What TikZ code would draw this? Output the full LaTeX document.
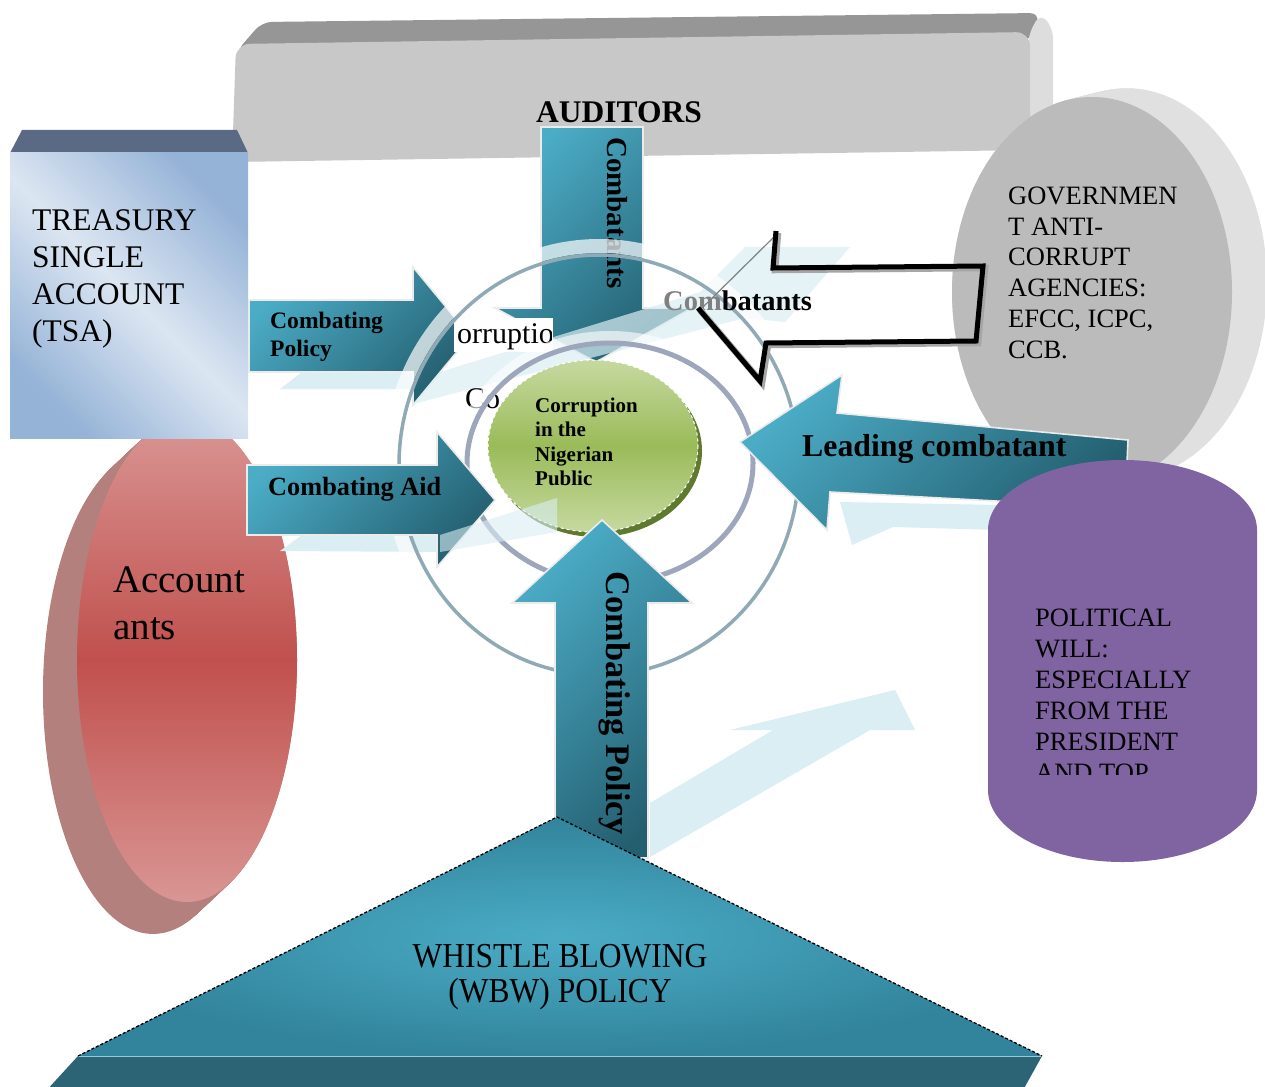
\documentclass[tikz,border=0pt]{standalone}
\usepackage{fontspec}
\setmainfont{Liberation Serif}
\usetikzlibrary{positioning}

\definecolor{teallight}{HTML}{4BACC6}
\definecolor{tealdark}{HTML}{245F70}
\definecolor{palecyan}{HTML}{DAEEF3}
\definecolor{slatetop}{HTML}{5A6A85}
\definecolor{tsalight}{HTML}{DCE6F2}
\definecolor{tsadark}{HTML}{95B3D7}
\definecolor{rosemid}{HTML}{C0504D}
\definecolor{roselight}{HTML}{D99694}
\definecolor{roseside}{HTML}{B3807E}
\definecolor{greenlight}{HTML}{C6D9A0}
\definecolor{greenmid}{HTML}{9BBB59}
\definecolor{greendark}{HTML}{5E7A2E}
\definecolor{willpurple}{HTML}{8064A2}
\definecolor{ringblue}{HTML}{8FAAB5}
\definecolor{ringgray}{HTML}{9EA6BC}
\definecolor{pyrdark}{HTML}{31849B}
\definecolor{pyrband}{HTML}{2D6475}
\definecolor{audfront}{HTML}{C8C8C8}
\definecolor{audtop}{HTML}{969696}
\definecolor{audside}{HTML}{DDDDDD}
\definecolor{govfront}{HTML}{BBBBBB}
\definecolor{govside}{HTML}{E0E0E0}

\newcommand{\fsz}[2]{\fontsize{#1}{#2}\selectfont}

\tikzset{
  tealarrow/.style={draw=white!92!black, line width=1.6, top color=teallight, bottom color=tealdark, shading angle=45},
  palearrow/.style={fill=palecyan},
  blocktext/.style={anchor=north west, inner sep=0pt, align=left},
}

\begin{document}
\begin{tikzpicture}[x=1pt,y=-1pt]
\useasboundingbox (0,0) rectangle (1265,1086);
\fill[white] (0,0) rectangle (1265,1086);
\clip (0,0) rectangle (1265,1086);

% auditors slab
\fill[audtop, rounded corners=10] (236,52) -- (262,22) -- (1040,13) -- (1032,40) -- cycle;
\fill[audside, rounded corners=10] (1028,36) -- (1040,13) -- (1053,28) -- (1053,140) -- (1028,152) -- cycle;
\fill[audfront, rounded corners=14] (236,44) -- (1030,32) -- (1030,150) -- (232,162) -- cycle;
\node[anchor=base, inner sep=0pt, font={\fsz{31.5}{37}\bfseries}] (auditors) at (619,123) {AUDITORS};

% anti-corruption agencies disc
\foreach \i in {0,...,35}
  \fill[govside, shift={(\i,-0.25*\i)}] (1092,292) ellipse [x radius=140, y radius=195];
\fill[govfront] (1092,292) ellipse [x radius=140, y radius=195];
\node[blocktext, font=\fsz{26.5}{30.8}] (agencies) at (1008,186.5)
  {GOVERNMEN\\T ANTI-\\CORRUPT\\AGENCIES:\\EFCC, ICPC,\\CCB.};

% accountants disc
\foreach \i in {0,...,34}
  \fill[roseside, shift={(-\i,0.94*\i)}] (187,660) ellipse [x radius=110, y radius=242];
\shade[top color=roselight, bottom color=roselight, middle color=rosemid] (187,660) ellipse [x radius=110, y radius=242];
\node[blocktext, font=\fsz{39}{47}] (accountants) at (113,567) {Account\\ants};

% treasury single account box
\fill[slatetop] (10,153) -- (22,130) -- (237,130) -- (248,153) -- cycle;
\shade[top color=tsadark, bottom color=tsadark, middle color=tsalight, shading angle=-45] (10,153) rectangle (248,438);
\node[blocktext, font=\fsz{31.5}{37}] (tsa) at (32,209) {TREASURY\\SINGLE\\ACCOUNT\\(TSA)};

% faded arrows behind
\fill[palearrow] (280,389) -- (302,372) -- (420,372) -- (420,389) -- cycle;
\fill[palearrow] (280,551) -- (302,535) -- (445,535) -- (445,552) -- cycle;
\fill[palearrow] (840,502) -- (852,545) -- (893,527) -- (1000,530) -- (1000,505) -- cycle;
\fill[palearrow] (650,803) -- (773,730) -- (730,730) -- (895,690) -- (915,730) -- (870,730) -- (650,857) -- cycle;

% combatants from the auditors
\shade[tealarrow] (541,127) -- (643,127) -- (643,308) -- (692,308) -- (596,362) -- (495,308) -- (541,308) -- cycle;
\node[rotate=-90, inner sep=0pt, font={\fsz{29}{29}\bfseries}] (downlabel) at (617,213) {Combatants};

% combating policy from the TSA
\shade[tealarrow] (249,300) -- (413,300) -- (413,267) -- (470,336) -- (413,405) -- (413,372) -- (249,372) -- cycle;
\node[blocktext, font={\fsz{23.6}{28}\bfseries}] (policylabel) at (270,312) {Combating\\Policy};

\fill[palearrow, opacity=0.7] (413,404) -- (440,372) -- (700,292) -- (745,247) -- (850,247) -- (785,322) -- (745,318) -- cycle;

% half hidden labels inside the rings
\fill[white] (454,318) rectangle (553,352);
\begin{scope}
  \clip (457,310) rectangle (551,356);
  \node[anchor=base west, inner sep=0pt, font=\fsz{30}{30}] (hidden1) at (437,343) {Corruption};
\end{scope}
\node[anchor=base west, inner sep=0pt, font=\fsz{30}{30}] (hidden2) at (465,408) {Co};

% rings
\draw[white, line width=14, opacity=0.7] (599,465) ellipse [x radius=209, y radius=219];
\draw[ringblue, line width=3.5] (599,465) ellipse [x radius=200, y radius=210];
\draw[white, line width=10, opacity=0.6] (610,463) ellipse [x radius=150, y radius=127];
\draw[ringgray, line width=5] (610,463) ellipse [x radius=143, y radius=120];

% combating aid from the accountants
\shade[tealarrow] (247,465) -- (437,465) -- (437,432) -- (495,500) -- (437,567) -- (437,535) -- (247,535) -- cycle;
\node[anchor=base west, inner sep=0pt, font={\fsz{26.3}{30}\bfseries}] (aidlabel) at (268,495) {Combating Aid};

% leading combatant
\shade[tealarrow] (740,442) -- (842,375) -- (837,413) -- (1128,440) -- (1125,508) -- (830,492) -- (827,530) -- cycle;
\node[anchor=base west, inner sep=0pt, font={\fsz{31.8}{32}\bfseries}] (leadlabel) at (802,456) {Leading combatant};

% corruption in the public sector
\fill[greendark] (597,451) ellipse [x radius=105, y radius=86];
\shade[top color=greenlight, bottom color=greenlight, middle color=greenmid] (593,446) ellipse [x radius=105, y radius=86];
\draw[white, dashed, line width=1] (593,446) ellipse [x radius=105, y radius=86];
\begin{scope}
  \clip (530,390) rectangle (660,493);
  \node[blocktext, font={\fsz{21}{24.5}\bfseries}] (core) at (535,397.5) {Corruption\\in the\\Nigerian\\Public\\Sector};
\end{scope}
\fill[palearrow, opacity=0.6] (440,535) -- (557,498) -- (557,532) -- (440,552) -- cycle;

% combating policy from whistle blowing
\shade[tealarrow] (555,858) -- (555,603) -- (512,603) -- (602,520) -- (692,603) -- (648,603) -- (648,858) -- cycle;
\node[rotate=-90, inner sep=0pt, font={\fsz{34.4}{35}\bfseries}] (uplabel) at (615,703) {Combating Policy};

% whistle blowing pyramid
\fill[pyrband] (78,1056) -- (1042,1056) -- (1022,1092) -- (45,1092) -- cycle;
\shade[inner color=teallight, outer color=pyrdark] (557,817) -- (1042,1056) -- (78,1056) -- cycle;
\draw[teallight!60!white, line width=1] (78,1056) -- (1042,1056);
\draw[black, densely dashed, line width=1.3] (78,1056) -- (557,817) -- (1042,1056);
\node[anchor=north, inner sep=0pt, align=center, xscale=0.9, font=\fsz{35}{35.5}] (wbw) at (560,944) {WHISTLE BLOWING\\(WBW) POLICY};

% political will
\fill[willpurple] (988,790) -- (988,530) arc[start angle=180, end angle=360, x radius=134.5, y radius=70]
  -- (1257,790) arc[start angle=0, end angle=180, x radius=134.5, y radius=72] -- cycle;
\begin{scope}
  \clip (1030,590) rectangle (1220,774);
  \node[blocktext, font=\fsz{26.5}{31}] (will) at (1035,608.5)
    {POLITICAL\\WILL:\\ESPECIALLY\\FROM THE\\PRESIDENT\\AND TOP};
\end{scope}

% combatants from the agencies
\node[anchor=base west, inner sep=0pt, font={\fsz{28.5}{29}\bfseries}] (agencylabel) at (663,310) {{\color{gray}Com}batants};
\draw[gray, line width=1.2] (700,310) -- (778,233);
\draw[gray!70, line width=6.5, line join=miter] (778,233) -- (775,270) -- (985,268) -- (978,343) -- (768,345) -- (762,383) -- (700,310);
\draw[black, line width=5, line join=miter] (776,231) -- (773,268) -- (983,266) -- (976,341) -- (766,343) -- (760,381) -- (698,308);
\end{tikzpicture}
\end{document}
